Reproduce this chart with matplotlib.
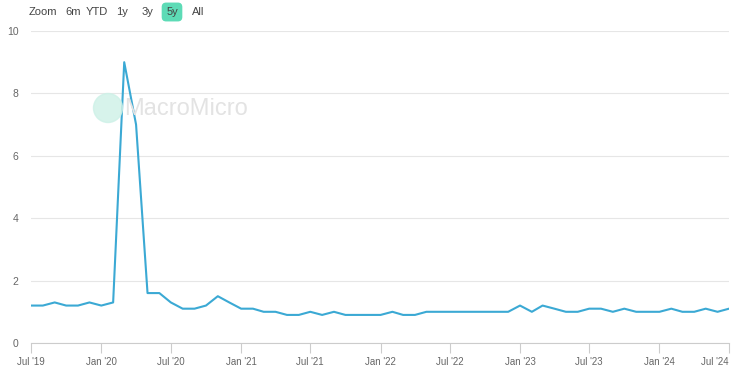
import pandas as pd
import matplotlib.pyplot as plt
from matplotlib.patches import Ellipse

plt.rcParams["font.family"] = ["Liberation Sans", "DejaVu Sans"]

months = pd.date_range("2019-07-01", "2024-07-01", freq="MS")
values = [1.2, 1.2, 1.3, 1.2, 1.2, 1.3,
          1.2, 1.3, 9.0, 7.0, 1.6, 1.6, 1.3, 1.1, 1.1, 1.2, 1.5, 1.3,
          1.1, 1.1, 1.0, 1.0, 0.9, 0.9, 1.0, 0.9, 1.0, 0.9, 0.9, 0.9,
          0.9, 1.0, 0.9, 0.9, 1.0, 1.0, 1.0, 1.0, 1.0, 1.0, 1.0, 1.0,
          1.2, 1.0, 1.2, 1.1, 1.0, 1.0, 1.1, 1.1, 1.0, 1.1, 1.0, 1.0,
          1.0, 1.1, 1.0, 1.0, 1.1, 1.0, 1.1]
tick_dates = pd.date_range("2019-07-01", "2024-07-01", freq="6MS")
buttons = ["Zoom", "6m", "YTD", "1y", "3y", "5y", "All"]

fig = plt.figure(figsize=(7.4, 3.71), dpi=100)
ax = fig.add_axes([31/740, 28/371, 698/740, 312/371])

ax.plot(months, values, color="#3ba9d4", lw=1.5, zorder=3)

ax.set_ylim(0, 10)
ax.set_yticks([0, 2, 4, 6, 8, 10])
ax.set_xlim(months[0], months[-1])
ax.set_xticks(tick_dates)
ax.set_xticklabels([d.strftime("%b '%y") for d in tick_dates])
ax.get_xticklabels()[-1].set_ha("right")
ax.grid(axis="y", color="#e6e6e6", lw=0.8)
for s in ["top", "right", "left"]:
    ax.spines[s].set_visible(False)
ax.spines["bottom"].set_color("#cccccc")
ax.tick_params(axis="y", length=0, labelsize=7.5, labelcolor="#666666", pad=9)
ax.tick_params(axis="x", length=7, color="#cccccc", labelsize=7, labelcolor="#666666", pad=3)

# watermark
fig.patches.append(Ellipse((108/740, 1 - 108/371), 29/740, 29/371, transform=fig.transFigure,
                           color="#cdf1e7", alpha=0.8, zorder=0))
fig.text(124/740, 1 - 109/371, "MacroMicro", fontsize=17, color="#e3e3e3",
         va="center", ha="left", zorder=1)

# range selector
xs = [43, 73, 97, 122, 148, 172, 198]
for x, b in zip(xs, buttons):
    if b == "5y":
        fig.text(x/740, 1 - 12/371, b, fontsize=8, color="#444444", ha="center", va="center",
                 bbox=dict(boxstyle="round,pad=0.4", fc="#5ddbb6", ec="none"))
    else:
        fig.text(x/740, 1 - 12/371, b, fontsize=8, color="#444444", ha="center", va="center")

fig.savefig("out.png", dpi=100)
